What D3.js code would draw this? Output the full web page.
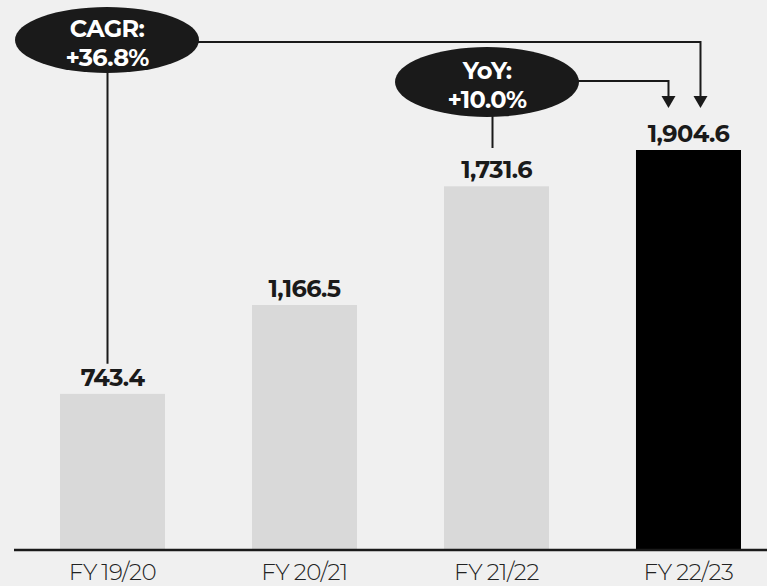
<!DOCTYPE html>
<html><head><meta charset="utf-8">
<script src="https://cdn.jsdelivr.net/npm/d3@7"></script>
<style>
html,body{margin:0;padding:0;background:#f0f0f0;}
svg{display:block;}
</style></head>
<body>
<svg id="chart" width="767" height="586"></svg>
<script>
const categories = ["FY 19/20", "FY 20/21", "FY 21/22", "FY 22/23"];
const values = [743.4, 1166.5, 1731.6, 1904.6];
const barColors = ["#d9d9d9", "#d9d9d9", "#d9d9d9", "#000000"];
const valueLabels = ["743.4", "1,166.5", "1,731.6", "1,904.6"];
const cagrLines = ["CAGR:", "+36.8%"];
const yoyLines = ["YoY:", "+10.0%"];

const W = 767, H = 586;
const baseY = 550;
const svg = d3.select("#chart");
svg.append("rect").attr("width", W).attr("height", H).attr("fill", "#f0f0f0");

const x = d3.scaleBand().domain(categories).range([12, 789]).paddingInner(0.453).paddingOuter(0.25);
const y = d3.scaleLinear().domain([0, 1904.6]).range([baseY, 150]);

const font = "Montserrat, 'Open Sans', Lato, sans-serif";

svg.append("g").selectAll("rect").data(values).join("rect")
  .attr("x", (d, i) => x(categories[i]))
  .attr("y", d => y(d))
  .attr("width", x.bandwidth())
  .attr("height", d => baseY - y(d))
  .attr("fill", (d, i) => barColors[i]);

svg.append("g").selectAll("text").data(values).join("text")
  .attr("x", (d, i) => x(categories[i]) + x.bandwidth() / 2)
  .attr("y", d => y(d) - 8)
  .attr("text-anchor", "middle")
  .attr("font-family", font).attr("font-weight", 700).attr("font-size", 24)
  .attr("letter-spacing", -0.6)
  .attr("fill", "#1a1a1a")
  .text((d, i) => valueLabels[i]);

// axis
const axis = svg.append("g").attr("transform", `translate(0,${baseY})`)
  .call(d3.axisBottom(x).tickSize(0).tickPadding(0));
axis.select(".domain").attr("d", "M14,0H767").attr("stroke", "#1a1a1a").attr("stroke-width", 2.5);
axis.selectAll(".tick text").attr("font-family", font).attr("font-weight", 300)
  .attr("font-size", 23).attr("letter-spacing", -0.4).attr("word-spacing", -1)
  .attr("fill", "#222").attr("y", 30).attr("dy", 0);

// annotations
const ink = "#1a1a1a";
const c0 = x(categories[0]) + x.bandwidth() / 2;
const c2 = x(categories[2]) + x.bandwidth() / 2;
const c3 = x(categories[3]) + x.bandwidth() / 2;

const ann = svg.append("g");
function arrowHead(px, tipY) {
  ann.append("path").attr("d", `M${px - 7},${tipY - 12}L${px + 7},${tipY - 12}L${px},${tipY}Z`).attr("fill", ink);
}
// CAGR connector
const cagr = {cx: 107, cy: 40, rx: 92, ry: 33};
ann.append("path").attr("d", `M${cagr.cx + cagr.rx - 2},42H${c3 + 12}V98`).attr("fill", "none").attr("stroke", ink).attr("stroke-width", 2);
arrowHead(c3 + 12, 108);
ann.append("line").attr("x1", c0 - 5).attr("x2", c0 - 5).attr("y1", cagr.cy + cagr.ry - 2).attr("y2", y(values[0]) - 30).attr("stroke", ink).attr("stroke-width", 2);

// YoY connector
const yoy = {cx: 487, cy: 82, rx: 92, ry: 35};
ann.append("path").attr("d", `M${yoy.cx + yoy.rx - 2},81H${c3 - 20}V98`).attr("fill", "none").attr("stroke", ink).attr("stroke-width", 2);
arrowHead(c3 - 20, 108);
ann.append("line").attr("x1", c2 - 4).attr("x2", c2 - 4).attr("y1", yoy.cy + yoy.ry - 2).attr("y2", 148).attr("stroke", ink).attr("stroke-width", 2);

function bubble(b, lines) {
  ann.append("ellipse").attr("cx", b.cx).attr("cy", b.cy).attr("rx", b.rx).attr("ry", b.ry).attr("fill", ink);
  ann.append("g").selectAll("text").data(lines).join("text")
    .attr("x", b.cx).attr("y", (d, i) => b.cy - 3 + i * 29)
    .attr("text-anchor", "middle")
    .attr("font-family", font).attr("font-weight", 700).attr("font-size", 24)
    .attr("letter-spacing", -0.6)
    .attr("fill", "#ffffff").text(d => d);
}
bubble(cagr, cagrLines);
bubble(yoy, yoyLines);
</script>
</body></html>
